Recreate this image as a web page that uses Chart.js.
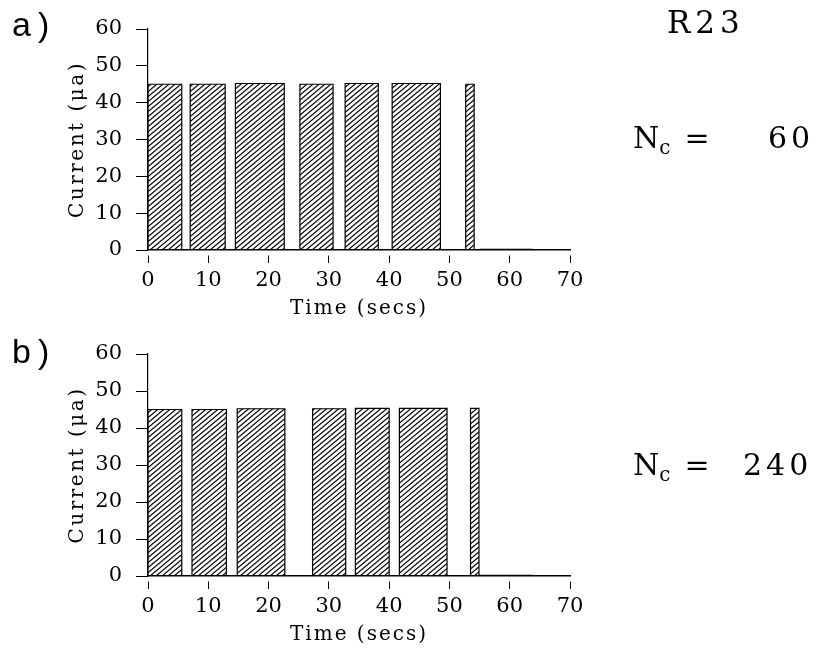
<!DOCTYPE html>
<html>
<head>
<meta charset="utf-8">
<script src="https://cdn.jsdelivr.net/npm/chart.js@4/dist/chart.umd.min.js"></script>
<style>
  body { margin: 0; background: #fff; }
  #wrap { position: relative; width: 826px; height: 651px; color: #000; font-family: "DejaVu Serif", serif; }
  canvas { position: absolute; left: 0; }
  .lbl { position: absolute; line-height: 1; white-space: nowrap; }
  .panel { font-family: "Liberation Sans", sans-serif; font-size: 34px; letter-spacing: 7px; }
  .big { font-size: 30px; }
  .sub { font-size: 20px; position: relative; top: 6px; }
</style>
</head>
<body>
<div id="wrap">
  <canvas id="chartA" width="826" height="325" style="top:0"></canvas>
  <canvas id="chartB" width="826" height="325" style="top:326px"></canvas>

  <div class="lbl panel" style="left:12px; top:7px">a)</div>
  <div class="lbl panel" style="left:12px; top:334px">b)</div>
  <div class="lbl" style="left:667px; top:7px; font-size:31px; letter-spacing:5px">R23</div>

  <div class="lbl big" style="left:633px; top:123px">N<span class="sub">c</span><span style="margin-left:14px">=</span></div>
  <div class="lbl big" style="left:768px; top:123px; letter-spacing:4px">60</div>

  <div class="lbl big" style="left:633px; top:450px">N<span class="sub">c</span><span style="margin-left:14px">=</span></div>
  <div class="lbl big" style="left:743px; top:450px; letter-spacing:4px">240</div>
</div>

<script>
// pulse start / end times (secs) and current (uA)
var startsA = [0, 7.0, 14.5, 25.2, 32.7, 40.5, 52.7, 55.1];
var endsA   = [5.6, 12.8, 22.6, 30.7, 38.2, 48.5, 54.1, 63.7];
var levelsA = [45, 45, 45.2, 45, 45.2, 45.2, 45, 0.2];

var startsB = [0, 7.3, 14.8, 27.3, 34.4, 41.7, 53.5, 55.0];
var endsB   = [5.6, 13.0, 22.7, 32.8, 40.0, 49.6, 54.9, 63.7];
var levelsB = [45, 45, 45.2, 45.2, 45.3, 45.3, 45.3, 0.2];

var timeTicks = [0, 10, 20, 30, 40, 50, 60, 70];
var currentTicks = [0, 10, 20, 30, 40, 50, 60];

// letter spacing for the axis titles (the original type is wide)
var titleSpacing = { x: '2px', y: '2.5px' };
if (Chart.Scale) {
    var baseDrawTitle = Chart.Scale.prototype.drawTitle;
    Chart.Scale.prototype.drawTitle = function () {
        this.ctx.save();
        this.ctx.letterSpacing = titleSpacing[this.id] || '0px';
        baseDrawTitle.call(this);
        this.ctx.restore();
    };
}

function hatch() {
    var c = document.createElement('canvas');
    c.width = 6;
    c.height = 5;
    var g = c.getContext('2d');
    g.strokeStyle = '#000000';
    g.lineWidth = 1.2;
    g.beginPath();
    g.moveTo(-6, 10); g.lineTo(12, -5);
    g.moveTo(-6, 5); g.lineTo(12, -10);
    g.moveTo(-6, 15); g.lineTo(12, 0);
    g.stroke();
    return g.createPattern(c, 'repeat');
}

function pulsePoints(starts, ends, levels) {
    var pts = [];
    for (var i = 0; i < starts.length; i++) {
        pts.push({ x: starts[i], y: 0 });
        pts.push({ x: starts[i], y: levels[i] });
        pts.push({ x: ends[i], y: levels[i] });
        pts.push({ x: ends[i], y: 0 });
    }
    return pts;
}

var serif = 'DejaVu Serif';

function makeChart(id, starts, ends, levels, padTop) {
    var ctx = document.getElementById(id).getContext('2d');
    return new Chart(ctx, {
        type: 'line',
        data: {
            datasets: [{
                data: pulsePoints(starts, ends, levels),
                borderColor: '#000000',
                borderWidth: 1.2,
                backgroundColor: hatch(),
                fill: 'origin',
                pointRadius: 0,
                tension: 0
            }]
        },
        options: {
            responsive: false,
            animation: false,
            layout: {
                padding: { top: padTop, right: 256, left: 0, bottom: 0 }
            },
            plugins: {
                legend: { display: false },
                tooltip: { enabled: false }
            },
            scales: {
                x: {
                    type: 'linear',
                    min: timeTicks[0],
                    max: timeTicks[timeTicks.length - 1],
                    afterBuildTicks: function (scale) {
                        scale.ticks = timeTicks.map(function (v) { return { value: v }; });
                    },
                    ticks: {
                        color: '#000000',
                        maxRotation: 0,
                        padding: 5,
                        font: { family: serif, size: 21 }
                    },
                    grid: {
                        drawOnChartArea: false,
                        color: '#000000',
                        tickLength: 13,
                        tickBorderDash: [0, 5, 8, 100]
                    },
                    border: { color: '#000000', width: 1.5 },
                    title: {
                        display: true,
                        text: 'Time (secs)',
                        color: '#000000',
                        font: { family: serif, size: 20 },
                        padding: { top: 0, bottom: 4 }
                    },
                    afterFit: function (scale) { scale.height = 75; }
                },
                y: {
                    min: currentTicks[0],
                    max: currentTicks[currentTicks.length - 1],
                    afterBuildTicks: function (scale) {
                        scale.ticks = currentTicks.map(function (v) { return { value: v }; });
                    },
                    ticks: {
                        color: '#000000',
                        padding: 14,
                        font: { family: serif, size: 21 }
                    },
                    grid: {
                        drawOnChartArea: false,
                        color: '#000000',
                        tickLength: 12
                    },
                    border: { color: '#000000', width: 1.2 },
                    title: {
                        display: true,
                        text: 'Current (\u03bca)',
                        color: '#000000',
                        font: { family: serif, size: 20 },
                        padding: { top: 66, bottom: 0 }
                    },
                    afterFit: function (scale) { scale.width = 148; }
                }
            }
        }
    });
}

var chartA = makeChart('chartA', startsA, endsA, levelsA, 29);
var chartB = makeChart('chartB', startsB, endsB, levelsB, 28);
</script>
</body>
</html>
